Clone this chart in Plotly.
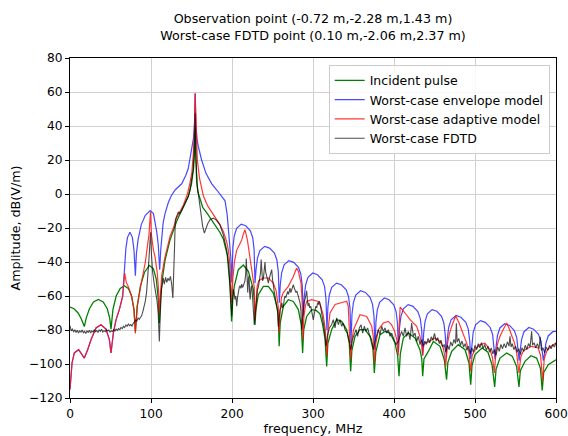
import plotly.graph_objects as go

# ---------------- data (frequency in MHz, amplitude in dB(V/m)) ----------------
incident_f = [0, 5, 10, 14, 17.7,
              20, 24, 29, 35, 41, 46, 49, 50.6,
              53, 57, 62, 67, 72, 76, 79, 80.7,
              83, 87, 92, 98, 103, 106.5, 109, 110.3,
              112, 114, 117.3, 123.5, 131.7, 140, 146, 150, 152.5, 153.8, 154.5, 155.3, 156.4, 158, 160.5, 164, 168.7, 175, 181, 185, 189.3, 194.2, 197.5, 199.5,
              201, 202.9, 207.8, 214, 220.2, 226.3, 227.6, 228.4,
              229.5, 232.5, 238.7, 244.9, 251, 256.4, 257.4, 258.2,
              259.5, 263.4, 269.5, 275.7, 281.9, 285.5, 287.2,
              288.5, 292.2, 298.4, 304, 308.6, 311.5, 314.8, 316.9,
              318.3, 323, 329.2, 335.4, 341.6, 344.8, 346.5,
              348, 351.9, 358, 364.2, 370.4, 374, 375.7,
              377.5, 382.7, 388.9, 395.1, 401.2, 404.5, 406.2,
              407.8, 411.5, 417.7, 425.9, 432, 434.3, 435.4,
              437, 442.4, 448.6, 456.8, 462.1, 464.9,
              466.5, 471.2, 479.4, 487.7, 492.6, 494.7,
              496.3, 500, 508.6, 516, 521, 524.3,
              526, 530.9, 539.1, 546.1, 551.4, 554.3,
              556, 561.7, 569.1, 576.1, 580.7, 583,
              584.8, 590.5, 600]
incident_db = [-66.5, -67.5, -70, -73.5, -78,
               -73, -67.5, -63.5, -62, -63.5, -67.5, -73, -79.5,
               -68, -60, -55.5, -54, -55.5, -60, -68, -81,
               -66, -54, -46, -42, -44, -50, -62, -76,
               -60, -50, -39, -27, -16, -7.5, -1.5, 6, 15, 25, 40, 22, 7, 1, -3.4, -8, -11, -15.5, -19.5, -22.5, -26.5, -36, -54, -75,
               -62, -54, -44.5, -41.8, -45.5, -56, -64, -77,
               -68, -59.2, -54.3, -54.3, -58.3, -68, -76, -89.6,
               -76, -66.1, -62.2, -63.2, -68, -77, -93.5,
               -80, -72, -68, -68.5, -70.5, -76, -85, -101.4,
               -88, -79.8, -73.9, -74.9, -79.8, -88, -104.3,
               -92, -83.7, -79.8, -79.8, -83.7, -91, -105.3,
               -93, -82.7, -80.8, -81.8, -87.6, -95, -107.2,
               -94, -84.7, -81.8, -84.7, -91.6, -97, -107.2,
               -97, -92.6, -86.7, -89.6, -97.5, -109.2,
               -99, -92.6, -88.6, -91.6, -99.4, -112.2,
               -101, -94.5, -90.6, -93.1, -100.4, -113.5,
               -103, -96.5, -93.5, -95.5, -101.4, -113.5,
               -104, -98.4, -95.1, -96.5, -102.4, -115.5,
               -105, -100.4, -97.5]

envelope_f = [0, 1.5, 2.5, 5.3, 10.7, 14.8, 17.7, 21.8, 25.9, 32.1, 38.3, 44.4, 48.6, 50.6, 53.5, 56.8, 60.9, 65, 67,
              69, 71, 74, 77, 79, 80.7,
              82, 84, 88, 93, 99, 103, 107, 109, 110.7,
              112, 113.2, 115, 117.3, 121.4, 125, 130, 137.9, 143, 146, 148, 150.5, 152.5, 153.8, 154.5, 155.3, 156.8, 158.4, 162.5, 168, 175, 181, 186, 191.4, 194, 196.7, 198.6, 199.8,
              201.1, 202.8, 205.7, 211.4, 217, 222.7, 225.6, 227.3, 228.4,
              229.6, 231.4, 234.4, 240.4, 246.4, 252.4, 255.4, 257.2, 258.4,
              259.6, 261.4, 264.3, 270.2, 276.2, 282.1, 285, 286.8, 288,
              289.2, 290.9, 293.8, 299.7, 305.5, 311.4, 314.3, 316, 317.2,
              318.4, 320.2, 323.1, 329.1, 335, 341, 343.9, 345.7, 346.9,
              348.1, 349.9, 352.8, 358.7, 364.7, 370.6, 373.5, 375.3, 376.5,
              377.7, 379.4, 382.3, 388.1, 393.9, 399.7, 402.6, 404.3, 405.5,
              406.7, 408.5, 411.5, 417.5, 423.4, 429.4, 432.4, 434.2, 435.4,
              436.6, 438.3, 441.2, 447, 452.9, 458.7, 461.6, 463.3, 464.5,
              465.7, 467.5, 470.5, 476.6, 482.6, 488.7, 491.7, 493.5, 494.7,
              495.9, 497.7, 500.7, 506.7, 512.7, 518.7, 521.7, 523.5, 524.7,
              525.9, 527.7, 530.7, 536.6, 542.6, 548.5, 551.5, 553.3, 554.5,
              555.7, 557.5, 560.5, 566.5, 572.4, 578.4, 581.4, 583.2, 584.4,
              585.6, 587.4, 590.4, 596, 600]
envelope_db = [-115, -106, -99.4, -93.5, -91.6, -94.5, -96.5, -91.6, -85.7, -78.8, -76.9, -79.4, -85.7, -93.5, -81.8, -74, -68, -60.2, -46.5,
               -32, -25.5, -22.5, -25.5, -33, -48,
               -35, -27, -18, -12.5, -9.8, -11.5, -22, -30, -44.6,
               -33, -26, -17, -11.5, -5, -1, 2.5, 6, 11, 15, 20, 26, 33, 42, 59, 42, 32, 28, 20, 12, 6, 2.5, -0.5, -4, -12, -27, -38, -52,
               -31.7, -24.7, -20.2, -17.7, -18.7, -21.7, -25.7, -32.7, -52.4,
               -44.8, -37.8, -33.3, -30.8, -31.8, -34.8, -38.8, -45.8, -64,
               -53.2, -46.2, -41.7, -39.2, -40.2, -43.2, -47.2, -54.2, -72,
               -60.5, -53.5, -49, -46.5, -47.5, -50.5, -54.5, -61.5, -80,
               -66.4, -59.4, -54.9, -52.4, -53.4, -56.4, -60.4, -67.4, -87.7,
               -70.9, -63.9, -59.4, -56.9, -57.9, -60.9, -64.9, -71.9, -91.6,
               -75.2, -68.2, -63.7, -61.2, -62.2, -65.2, -69.2, -76.2, -93,
               -79.1, -72.1, -67.6, -65.1, -66.1, -69.1, -73.1, -80.1, -95,
               -82, -75, -70.5, -68, -69, -72, -76, -83, -96,
               -85.5, -78.5, -74, -71.5, -72.5, -75.5, -79.5, -86.5, -97,
               -88.5, -81.5, -77, -74.5, -75.5, -78.5, -82.5, -89.5, -97,
               -90.3, -83.3, -78.8, -76.3, -77.3, -80.3, -84.3, -91.3, -98,
               -92.5, -85.5, -81, -78.5, -79.5, -82.5, -86.5, -93.5, -98,
               -94.5, -88, -83.5, -81, -80.8]

adaptive_f = [0, 1.5, 2.5, 5.3, 10.7, 14.8, 17.7, 21.8, 25.9, 32.1, 38.3, 44.4, 48.6, 50.6, 53.5, 56.8, 60.9, 65,
              67.5, 69.5, 72, 76, 79, 80.7,
              83, 87, 90, 93, 95.5, 97.5, 99.4, 100.5, 103, 105, 107.8, 109.5, 110.3,
              112, 113.2, 117.3, 123.5, 127.6, 131.7, 140, 145, 148.1, 150.5, 152.3, 153.6, 154.5, 155.5, 157.2, 160, 164.6, 170, 175, 181, 185, 189.3, 193.4, 195.5, 197.5, 199.6,
              201, 203, 205.8, 209, 212, 214, 216, 219, 222.2, 225, 227.5, 228.4,
              229.5, 231, 233, 238.7, 244.9, 251, 254.5, 257, 258.4,
              259.5, 261, 263.4, 269.5, 275.7, 279.8, 282, 285.2, 286.5, 287.5,
              288.8, 290.5, 292.2, 298.4, 306.6, 309.5, 312.5, 315, 316.2, 317.2,
              318.5, 321, 327.2, 333.3, 341.6, 343.5, 345, 346.5,
              348, 350, 351.9, 358, 366.3, 372.5, 374.5, 375.7,
              377.5, 380.7, 386.8, 393, 397, 401, 403.5, 405.3,
              406.3, 407.6, 413.6, 419.8, 428, 432.1, 434.2, 435.4,
              436.8, 438.3, 442.4, 450.6, 456.8, 460.5, 462.6, 463.8,
              466, 468.5, 471.2, 476.1, 480, 483.5, 489.7, 492.5, 494.7,
              496.5, 500, 506.2, 512.3, 518.5, 521.5, 523.9,
              526, 528.5, 530.9, 535, 539.1, 542, 545.3, 549, 551.4, 554.3,
              556.5, 559, 561.7, 569.9, 578, 581, 583.5,
              585.5, 589, 594, 600]
adaptive_db = [-115, -106, -99.4, -93.5, -91.6, -94.5, -96.5, -91.6, -85.7, -78.8, -76.9, -79.4, -85.7, -93.5, -81.8, -74, -68, -60.2,
               -46.5, -52, -54.5, -60, -68, -82,
               -66, -55, -48, -40, -31, -24, -10.5, -24, -33, -37, -46.5, -58, -70,
               -56, -48, -37, -25, -20, -14, -6.5, 0, 6.5, 13, 24, 38, 59.4, 38, 20, 9, -1, -7, -10.5, -14.5, -18, -22, -28, -33, -42, -64,
               -50, -40, -33, -30, -27, -23.5, -21, -27, -36.7, -45, -55, -74,
               -62, -54.5, -51, -49.4, -49.4, -52.4, -57, -66, -81.8,
               -68, -61, -58, -54.3, -48.5, -43.5, -45.5, -52.4, -62, -85.7,
               -72, -66, -63.2, -62.2, -63.2, -66, -71, -79, -86, -95,
               -80, -70, -65, -64.1, -63.1, -66, -80, -97.4,
               -86, -80, -77.8, -71, -72, -77.8, -84, -99.4,
               -88, -79.8, -75.9, -74.9, -76.9, -81, -86, -95,
               -78, -66.5, -70, -73.9, -77.8, -83.7, -89, -95,
               -89, -87.5, -87, -84.7, -86.7, -90, -95, -101.4,
               -88, -82, -77.9, -71.6, -75.5, -79.8, -87.7, -93, -104.3,
               -95, -91.6, -88.6, -87.7, -91.6, -96, -105.3,
               -92, -87, -83.7, -79.5, -75.9, -79, -82.8, -88, -93.5, -105.3,
               -96, -93, -91.6, -89.6, -90.6, -95, -110,
               -97, -92, -89.5, -87.7]

fdtd_f = [0, 1.5, 3, 4.5, 6, 7.5, 9, 10.5, 12, 13.5, 15, 16.5, 18, 19.5, 21, 22.5, 24, 25.5, 27, 28.5,
          30, 31.5, 33, 34.5, 36, 37.5, 39, 40.5, 42, 43.5, 45, 46.5, 48, 49.5, 51, 52.5, 54, 55.5, 57, 58.5,
          60, 61.5, 63, 64.5, 66, 67.5, 69, 70.5, 72, 73.5, 75, 76.5, 78, 79.5, 81, 82.5, 84, 85.5, 87, 88.5,
          90, 91.5, 93, 94.5, 96, 97.5, 99, 99.6, 100.5, 102, 104, 106, 107.5, 109, 110.3,
          111.5, 113, 115.2, 116.5, 118, 119.5, 121, 122.5, 124, 125.5, 127, 128, 129, 130, 131.5, 133, 133.8, 135, 137,
          140, 144, 146, 148, 150, 152, 153.3, 154, 154.5, 155, 155.6, 157.2, 160.5, 163.8, 165.9, 167.5, 170, 173, 177, 181, 185, 189.3, 193.4, 196, 197.5, 199,
          199.8, 200.8, 201.6, 202.6, 203.7, 204.8, 205.8, 206.8, 207.8, 208.9, 209.9, 211, 212, 213, 214, 215, 216, 216.9, 217.6, 218.3,
          219.4, 220.3, 221, 221.8, 222.5, 223.5, 224.3, 225.3, 226.3, 227.5, 228.4, 229.5, 230.4, 231.5, 232.5, 233.5, 234.5, 235.3, 236, 236.8,
          237.7, 238.7, 239.7, 240.7, 241.6, 242.8, 243.8, 244.9, 245.8, 246.9, 248, 249, 250, 251, 252, 253.1, 254.5, 256.4, 257.2, 258.2,
          259.3, 260.5, 261.5, 262.5, 263.4, 264.5, 265.4, 266.5, 267.6, 268.7, 269.8, 270.7, 271.6, 272.6, 273.7, 274.7, 275.7, 276.7, 277.8, 279,
          280, 281.1, 282.5, 284, 285, 286, 287, 288, 289, 290.1, 291.2, 292.2, 293.2, 294, 295, 296, 297.2, 298.4, 299.4, 300.4,
          301.4, 302.5, 303.5, 304.6, 305.6, 306.6, 307.6, 308.6, 309.7, 310.7, 311.7, 312.8, 313.8, 314.8, 316,
          317.7, 320.2, 323, 325.1, 327.2, 329.2, 331.3, 333.3, 335.4, 337.4, 339.5, 342.4, 344.9, 346.5, 348.6, 350.6, 353.1, 355.1, 357.2, 359.3,
          361.3, 363.4, 365.4, 367.5, 369.5, 372.4, 374.5, 376.5, 378.6, 380.7, 382.7, 384.8, 386.8, 388.9, 391, 393, 395.1, 397.1, 400, 402.5,
          405.3, 407.4, 409.4, 411.5, 413.6, 415.6, 417.7, 419.8, 421.8, 423.9, 426, 428, 430, 432.1, 434.2, 436.2,
          438, 440, 442, 444, 446, 448, 450, 452, 454, 456, 458, 460, 462, 464, 466, 468, 470, 472, 474, 476,
          477, 478, 480, 482, 484, 486, 488, 490, 492, 494, 496, 498, 500, 502, 504, 506, 508, 510, 512, 514,
          516, 518, 520, 522, 524, 526, 528, 530, 532, 534, 536, 538, 540, 542, 543.2, 544.5, 546, 548, 550, 552,
          554, 556, 558, 560, 562, 564, 566, 568, 569.9, 571, 573, 575, 577, 579, 580.5, 582, 584, 586, 588, 590,
          592, 594, 596, 598, 600]
fdtd_db = [-77.5, -80.5, -79.5, -81, -80, -81.5, -80.2, -81.8, -80.5, -81.2, -80, -81.6, -80.8, -82, -80.6, -81.4, -80.2, -81.8, -80.5, -81.2,
           -79.8, -81, -80.3, -81.5, -80, -80.8, -79.6, -81.2, -80.4, -81, -79.8, -80.6, -80, -81.2, -80.4, -80.9, -79.8, -80.5, -79.5, -80.2,
           -79.2, -79.8, -78.5, -79.2, -77.8, -78.6, -77, -77.8, -76.5, -77.5, -76.8, -77.6, -76.2, -75.5, -74.2, -74.8, -73, -73.8, -72.5, -71.5,
           -69, -66.5, -63, -58, -50, -38, -26, -22.5, -35, -46, -53, -58, -63, -71, -86.7,
           -70, -56, -49.5, -53, -49, -52, -49.5, -51, -48.5, -53, -61.2, -50, -32, -15.2, -13.5, -12, -10.5, -11.5, -10.5,
           -7.5, -3.5, -1.5, 2, 7, 14, 25, 35, 47.5, 35, 20, 4.5, -7, -19, -23, -21, -17.5, -15, -14.2, -15.5, -18, -24, -32.8, -42, -52.4, -69,
           -72, -60, -56, -58, -62, -60, -66, -61, -57, -55, -54, -55.5, -53, -55, -54, -52, -51, -47, -38, -45,
           -58, -50, -48, -58, -62, -55, -54, -60, -66, -76.9, -73, -65, -60, -56, -55, -52, -50, -46, -38.6, -48,
           -51, -50, -45, -40, -46, -48.5, -51, -52.4, -50, -48.5, -47, -44.5, -50, -55, -57, -60, -64, -70, -78, -72,
           -68, -67, -64, -67, -66, -62, -60, -61, -58, -57.3, -59, -56, -55.3, -58, -56.3, -54.5, -53.4, -55, -56.3, -58,
           -57, -59.2, -61, -64, -68, -79.8, -74, -68, -64, -62.2, -60, -57, -63, -66, -64, -67, -66, -70, -72, -74,
           -71, -68, -66, -67, -64, -65, -63, -64, -67, -70, -72, -74, -79, -83.7, -89.6,
           -83.7, -78.8, -76.9, -73.9, -78.8, -72.9, -76.9, -73.9, -77.8, -75.9, -79.8, -81.8, -86.7, -91.6, -85.7, -82.7, -79.8, -83.7, -78.8, -76.9,
           -81.8, -77.8, -80.8, -78.8, -82.7, -85.7, -91.6, -86.7, -82.7, -79.8, -82.7, -77.8, -80.8, -78.8, -81.8, -79.8, -83.7, -81.8, -85.7, -88.6,
           -86.7, -83.7, -80.8, -83.7, -78.8, -83.7, -80.8, -85.7, -75.9, -83.7, -81.8, -86.7, -83.7, -88.6, -85.7, -89.6,
           -86.5, -88.5, -85, -87.5, -84, -86, -82, -86.5, -84.5, -88, -86, -90, -88.5, -93, -89, -91.5, -87, -89.5, -85.5, -88,
           -76, -87, -85, -89, -86.5, -90, -88, -92, -89.5, -94, -90.5, -93, -89, -91.5, -88, -90.5, -87.5, -91, -88.5, -92,
           -89.5, -93, -90.5, -94, -91.5, -95, -90, -92.5, -88.5, -91, -88, -90.5, -87, -89.5, -83.7, -90, -88, -91.5, -89.5, -93,
           -91, -94.5, -90.5, -92.5, -89, -91.5, -88, -90, -80.8, -89, -87.5, -90.5, -88, -91, -84, -92, -90.5, -93.5, -90, -92,
           -89, -91, -88.5, -90, -87.5]

series = [
    ("Incident pulse", incident_f, incident_db, "#008000", 1.3),
    ("Worst-case envelope model", envelope_f, envelope_db, "rgba(40,40,255,0.85)", 1.2),
    ("Worst-case adaptive model", adaptive_f, adaptive_db, "rgba(255,20,20,0.85)", 1.2),
    ("Worst-case FDTD", fdtd_f, fdtd_db, "rgba(0,0,0,0.7)", 1.1),
]

fig = go.Figure()
for name, xs, ys, col, w in series:
    fig.add_trace(go.Scatter(x=xs, y=ys, mode="lines", name=name,
                             line=dict(color=col, width=w)))

axis_common = dict(showgrid=True, gridcolor="#d0d0d0", gridwidth=1,
                   showline=True, linecolor="black", linewidth=1, mirror=True,
                   ticks="outside", ticklen=4, tickcolor="black",
                   zeroline=False, automargin=False, ticklabeloverflow="allow",
                   tickfont=dict(size=12.2, color="black"))

fig.update_layout(
    width=568, height=436,
    margin=dict(l=70, r=12, t=58, b=38, autoexpand=False),
    plot_bgcolor="white", paper_bgcolor="white",
    font=dict(family="DejaVu Sans", size=12.7, color="black"),
    title=dict(text="Observation point (-0.72 m,-2.28 m,1.43 m)<br>Worst-case FDTD point (0.10 m,-2.06 m,2.37 m)",
               x=0.5, xref="paper", xanchor="center",
               y=0.947, yref="container", yanchor="top",
               font=dict(size=12.7)),
    xaxis=dict(range=[0, 600], dtick=100, tick0=0,
               title=dict(text="frequency, MHz", standoff=3, font=dict(size=12.7)), **axis_common),
    yaxis=dict(range=[-120, 80], dtick=20, tick0=-120,
               title=dict(text="Amplitude, dB(V/m)", standoff=5, font=dict(size=12.7)), **axis_common),
    legend=dict(x=0.987, y=0.98, xanchor="right", yanchor="top",
                bgcolor="rgba(255,255,255,0.85)", bordercolor="#cccccc", borderwidth=1,
                font=dict(size=12.5), itemwidth=30, tracegroupgap=0),
    showlegend=True,
)

# remove the default page margin so the figure fills the 568x436 window exactly
fig.write_html("out.html", config={"displayModeBar": False},
               post_script="document.body.style.margin='0';document.body.style.overflow='hidden';")
